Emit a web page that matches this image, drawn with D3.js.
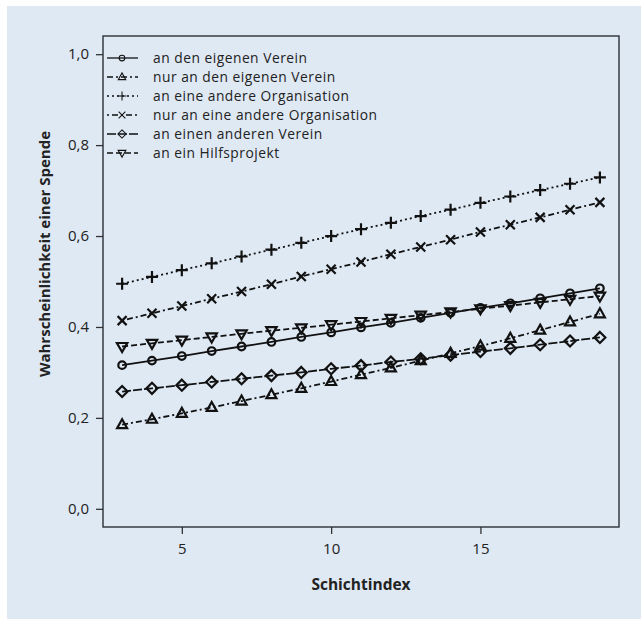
<!DOCTYPE html>
<html>
<head>
<meta charset="utf-8">
<script src="https://cdn.jsdelivr.net/npm/d3@7"></script>
<style>
body { margin: 0; background: #fff; }
.container { width: 641px; height: 619px; }
text { font-family: "Open Sans", "Noto Sans", sans-serif; fill: #222; }
</style>
</head>
<body>
<div class="container"></div>
<script>
const wd = 641
const ht = 619

// Schichtindex 3..19
const schicht = [3,4,5,6,7,8,9,10,11,12,13,14,15,16,17,18,19]

const eigenerVerein   = [0.316,0.326,0.336,0.347,0.357,0.367,0.378,0.388,0.399,0.409,0.420,0.431,0.442,0.452,0.463,0.474,0.485]
const nurEigener      = [0.185,0.197,0.210,0.223,0.237,0.251,0.265,0.280,0.295,0.310,0.326,0.342,0.358,0.375,0.393,0.411,0.429]
const andereOrg       = [0.495,0.510,0.525,0.540,0.555,0.570,0.585,0.600,0.615,0.629,0.644,0.658,0.673,0.687,0.701,0.715,0.729]
const nurAndereOrg    = [0.414,0.430,0.446,0.462,0.478,0.494,0.511,0.527,0.543,0.560,0.576,0.592,0.609,0.625,0.641,0.658,0.674]
const andererVerein   = [0.258,0.265,0.272,0.279,0.286,0.293,0.300,0.308,0.315,0.323,0.330,0.338,0.346,0.353,0.361,0.369,0.377]
const hilfsprojekt    = [0.357,0.364,0.371,0.378,0.385,0.392,0.398,0.405,0.412,0.419,0.426,0.433,0.440,0.447,0.454,0.461,0.468]

const labels = ["an den eigenen Verein","nur an den eigenen Verein","an eine andere Organisation",
  "nur an eine andere Organisation","an einen anderen Verein","an ein Hilfsprojekt"]
const seriesVals = [eigenerVerein, nurEigener, andereOrg, nurAndereOrg, andererVerein, hilfsprojekt]
const symbols = ["circle","triangle","plus","cross","diamond","nabla"]
const dashes = ["none","6,3,2,3","2,3","2,3,6,3","9,2","6,3"]

const xTicks = [5,10,15]
const yTicks = [0,0.2,0.4,0.6,0.8,1.0]

const svgC = d3.select(".container")
.append("svg")
.attr("width", wd)
.attr("height", ht)

svgC.append("rect")
.attr("x", 7).attr("y", 6)
.attr("width", wd-7).attr("height", ht-6)
.attr("fill", "#dfe9f4")

const pLeft = 103, pRight = 619, pTop = 36, pBottom = 527

const xScale = d3.scaleLinear().domain([2.36, 19.64]).range([pLeft, pRight])
const yScale = d3.scaleLinear().domain([-0.04, 1.04]).range([pBottom, pTop])

const lineObj = d3.line()
.x((d,i)=> xScale(schicht[i]))
.y(d=> yScale(d))

// axes
const fmt = d=> d3.format(".1f")(d).replace(".", ",")
const yAx = svgC.append("g")
.attr("transform", `translate(${pLeft},0)`)
.call(d3.axisLeft(yScale).tickValues(yTicks).tickFormat(fmt).tickSize(7).tickPadding(7))
const xAx = svgC.append("g")
.attr("transform", `translate(0,${pBottom})`)
.call(d3.axisBottom(xScale).tickValues(xTicks).tickSize(7).tickPadding(9))
for (const ax of [yAx, xAx]) {
  ax.select(".domain").remove()
  ax.selectAll("line").attr("stroke", "#333").attr("stroke-width", 1.3)
  ax.selectAll("text").style("font-size", "15px").attr("fill", "#222")
}

svgC.append("rect")
.attr("x", pLeft).attr("y", pTop)
.attr("width", pRight-pLeft).attr("height", pBottom-pTop)
.attr("fill", "none").attr("stroke", "#2a2f36").attr("stroke-width", 1.4)

// axis titles
svgC.append("text")
.attr("x", (pLeft+pRight)/2).attr("y", 590)
.attr("text-anchor", "middle")
.style("font-size", "15.5px").style("font-weight", "bold")
.text("Schichtindex")

svgC.append("text")
.attr("transform", "translate(50,254) rotate(-90)")
.attr("text-anchor", "middle")
.style("font-size", "15px").style("font-weight", "bold")
.text("Wahrscheinlichkeit einer Spende")

function drawSymbol(g, type, cx, cy) {
  if (type==="circle") {
    g.append("circle").attr("cx", cx).attr("cy", cy).attr("r", 3.8)
    .attr("fill", "none").attr("stroke", "#111").attr("stroke-width", 2.2)
    return
  }
  let p = ""
  if (type==="triangle") p = `M${cx},${cy-5.5}L${cx+5},${cy+3.5}L${cx-5},${cy+3.5}Z`
  if (type==="nabla") p = `M${cx},${cy+5.5}L${cx+5.2},${cy-3.5}L${cx-5.2},${cy-3.5}Z`
  if (type==="plus") p = `M${cx-6},${cy}L${cx+6},${cy}M${cx},${cy-6}L${cx},${cy+6}`
  if (type==="cross") p = `M${cx-4.5},${cy-4.5}L${cx+4.5},${cy+4.5}M${cx-4.5},${cy+4.5}L${cx+4.5},${cy-4.5}`
  if (type==="diamond") p = `M${cx},${cy-5.5}L${cx+5.5},${cy}L${cx},${cy+5.5}L${cx-5.5},${cy}Z`
  g.append("path").attr("d", p)
  .attr("fill", "none").attr("stroke", "#111").attr("stroke-width", 2.2)
}

seriesVals.forEach((vals, k)=> {
  svgC.append("path")
  .attr("d", lineObj(vals))
  .attr("fill", "none")
  .attr("stroke", "#111")
  .attr("stroke-width", 1.8)
  .attr("stroke-dasharray", dashes[k])
  const g = svgC.append("g")
  vals.forEach((v,i)=> drawSymbol(g, symbols[k], xScale(schicht[i]), yScale(v)))
})

// legend
labels.forEach((lab, k)=> {
  const y = 58 + k*19
  svgC.append("line")
  .attr("x1", 107).attr("x2", 138).attr("y1", y).attr("y2", y)
  .attr("stroke", "#111").attr("stroke-width", 1.3)
  .attr("stroke-dasharray", dashes[k])
  const g = svgC.append("g")
  .attr("transform", `translate(${122*0.25},${y*0.25}) scale(0.75)`)
  drawSymbol(g, symbols[k], 122, y)
  g.selectAll("path,circle").attr("stroke-width", 1.4)
  svgC.append("text")
  .attr("x", 153).attr("y", y+5)
  .style("font-size", "13.8px")
  .style("letter-spacing", "0.5px")
  .text(lab)
})
</script>
</body>
</html>
